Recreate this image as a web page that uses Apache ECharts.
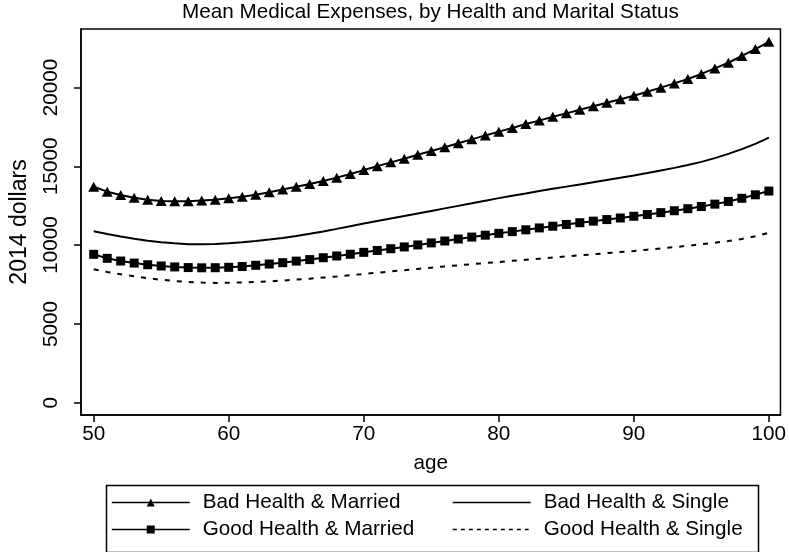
<!DOCTYPE html>
<html>
<head>
<meta charset="utf-8">
<script src="https://cdn.jsdelivr.net/npm/echarts@6/dist/echarts.min.js"></script>
<style>
html, body { margin: 0; padding: 0; background: #fff; }
#main { width: 789px; height: 552px; }
</style>
</head>
<body>
<div id="main"></div>
<script>
var ages = [50, 51, 52, 53, 54, 55, 56, 57, 58, 59, 60, 61, 62, 63, 64, 65, 66, 67, 68, 69, 70,
	71, 72, 73, 74, 75, 76, 77, 78, 79, 80, 81, 82, 83, 84, 85, 86, 87, 88, 89, 90,
	91, 92, 93, 94, 95, 96, 97, 98, 99, 100];

var badMarried = [13700, 13390, 13180, 13010, 12880, 12800, 12780, 12780, 12830, 12880, 12970,
	13070, 13200, 13350, 13530, 13700, 13875, 14065, 14280, 14510, 14760,
	15000, 15250, 15480, 15730, 15970, 16210, 16460, 16710, 16960, 17200,
	17430, 17680, 17900, 18145, 18360, 18590, 18810, 19030, 19250, 19480,
	19730, 19990, 20260, 20540, 20860, 21210, 21570, 22000, 22440, 22900];

var badSingle = [10880, 10700, 10540, 10400, 10280, 10180, 10110, 10060, 10050, 10070, 10110,
	10180, 10260, 10350, 10450, 10580, 10720, 10870, 11030, 11200, 11370,
	11530, 11690, 11850, 12010, 12170, 12330, 12490, 12650, 12820, 12980,
	13130, 13280, 13430, 13570, 13710, 13850, 13990, 14130, 14270, 14410,
	14570, 14740, 14900, 15080, 15280, 15520, 15790, 16090, 16420, 16820];

var goodMarried = [9415, 9160, 8990, 8860, 8755, 8675, 8615, 8575, 8560, 8565, 8590,
	8640, 8720, 8800, 8885, 8985, 9080, 9200, 9310, 9420, 9540,
	9660, 9770, 9885, 10010, 10140, 10260, 10385, 10510, 10630, 10745,
	10855, 10970, 11090, 11200, 11310, 11420, 11520, 11620, 11720, 11830,
	11940, 12060, 12180, 12310, 12450, 12600, 12770, 12970, 13190, 13430];

var goodSingle = [8470, 8300, 8150, 8020, 7900, 7800, 7720, 7660, 7620, 7600, 7610,
	7630, 7660, 7700, 7750, 7810, 7870, 7940, 8010, 8090, 8170,
	8250, 8330, 8410, 8490, 8570, 8650, 8720, 8790, 8860, 8930,
	9000, 9070, 9140, 9210, 9280, 9350, 9420, 9490, 9560, 9630,
	9710, 9790, 9870, 9960, 10050, 10150, 10260, 10390, 10560, 10780];

var xTicks = [50, 60, 70, 80, 90, 100];
var yTicks = [0, 5000, 10000, 15000, 20000];

var seriesNames = ['Bad Health & Married', 'Bad Health & Single', 'Good Health & Married', 'Good Health & Single'];

var font = 'Liberation Sans, Arial, sans-serif';
var fs = 20.7;

function toPairs(vals) {
	var out = [];
	for (var i = 0; i < ages.length; i++) {
		out.push([ages[i], vals[i]]);
	}
	return out;
}

var chart = echarts.init(document.getElementById('main'));

var option = {
	animation: false,
	backgroundColor: '#fff',
	textStyle: { fontFamily: font, color: '#000' },
	title: {
		text: 'Mean Medical Expenses, by Health and Marital Status',
		left: 182,
		top: 2,
		padding: 0,
		textStyle: { fontFamily: font, fontSize: fs, fontWeight: 'normal', color: '#000' }
	},
	grid: {
		left: 74,
		right: 3,
		top: 29,
		bottom: 137,
		show: true,
		borderColor: '#000',
		borderWidth: 1.5,
		containLabel: false
	},
	legend: [{
		orient: 'vertical',
		left: 111,
		top: 492,
		padding: 0,
		itemWidth: 78,
		itemHeight: 10,
		itemGap: 6,
		textStyle: { fontFamily: font, fontSize: fs, color: '#000', padding: [0, 0, 0, 8] },
		lineStyle: { width: 1.5 },
		data: [seriesNames[0], seriesNames[2]]
	}, {
		orient: 'vertical',
		left: 452,
		top: 492,
		padding: 0,
		itemWidth: 78,
		itemHeight: 10,
		itemGap: 6,
		textStyle: { fontFamily: font, fontSize: fs, color: '#000', padding: [0, 0, 0, 8] },
		lineStyle: { width: 1.5 },
		data: [
			{ name: seriesNames[1], itemStyle: { opacity: 0 } },
			{ name: seriesNames[3], itemStyle: { opacity: 0 }, lineStyle: { type: [4, 4] } }
		]
	}],
	xAxis: {
		type: 'value',
		min: 49.06,
		max: 100.86,
		name: 'age',
		nameLocation: 'middle',
		nameGap: 38,
		nameTextStyle: { fontFamily: font, fontSize: fs, color: '#000' },
		axisLine: { show: true, onZero: false, lineStyle: { color: '#000', width: 1.5 } },
		axisTick: { show: true, length: 7, lineStyle: { color: '#000', width: 1.5 }, customValues: xTicks },
		axisLabel: { fontFamily: font, fontSize: fs, color: '#000', margin: 9, customValues: xTicks },
		splitLine: { show: false }
	},
	yAxis: {
		type: 'value',
		min: -780,
		max: 23712,
		name: '2014 dollars',
		nameLocation: 'middle',
		nameGap: 50,
		nameRotate: 90,
		nameTextStyle: { fontFamily: font, fontSize: 23, color: '#000' },
		axisLine: { show: true, onZero: false, lineStyle: { color: '#000', width: 1.5 } },
		axisTick: { show: true, length: 7, lineStyle: { color: '#000', width: 1.5 }, customValues: yTicks },
		axisLabel: {
			fontFamily: font, fontSize: fs, color: '#000', margin: 19, rotate: 90, customValues: yTicks,
			formatter: function (v) { return String(v); }
		},
		splitLine: { show: false }
	},
	graphic: [{
		type: 'rect',
		left: 104,
		top: 483,
		shape: { width: 652, height: 67 },
		style: { fill: 'none', stroke: '#000', lineWidth: 1.5 },
		z: 0
	}],
	series: [{
		name: seriesNames[0],
		type: 'line',
		data: toPairs(badMarried),
		symbol: 'triangle',
		symbolSize: [11, 10],
		showAllSymbol: true,
		lineStyle: { color: '#000', width: 2 },
		itemStyle: { color: '#000' }
	}, {
		name: seriesNames[1],
		type: 'line',
		data: toPairs(badSingle),
		symbol: 'none',
		lineStyle: { color: '#000', width: 2 },
		itemStyle: { color: '#000' }
	}, {
		name: seriesNames[2],
		type: 'line',
		data: toPairs(goodMarried),
		symbol: 'rect',
		symbolSize: 9,
		showAllSymbol: true,
		lineStyle: { color: '#000', width: 2 },
		itemStyle: { color: '#000' }
	}, {
		name: seriesNames[3],
		type: 'line',
		data: toPairs(goodSingle),
		symbol: 'none',
		lineStyle: { color: '#000', width: 2, type: [5, 7] },
		itemStyle: { color: '#000' }
	}]
};

chart.setOption(option);
</script>
</body>
</html>
